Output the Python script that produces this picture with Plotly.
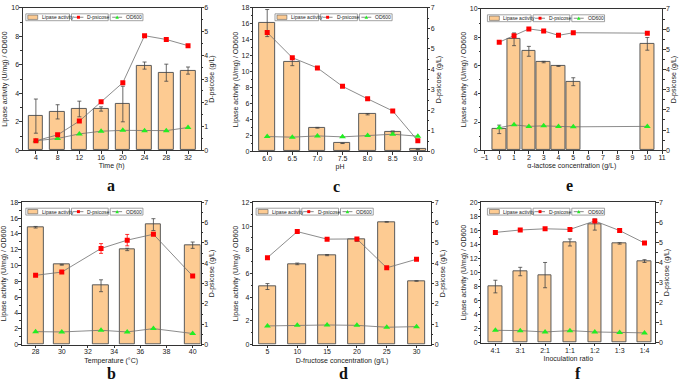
import plotly.graph_objects as go

W, H = 685, 384

# ---------------- data ----------------
time_h = [4, 8, 12, 16, 20, 24, 28, 32]
a_lipase = [2.4, 2.7, 2.9, 2.9, 3.25, 5.95, 5.45, 5.6]
a_lipase_err = [1.2, 0.5, 0.55, 0.15, 1.25, 0.25, 0.6, 0.25]
a_psicose = [0.4, 0.65, 1.23, 2.05, 2.85, 4.83, 4.67, 4.41]
a_od600 = [0.67, 0.83, 1.15, 1.34, 1.4, 1.38, 1.38, 1.6]

ph = [6.0, 6.5, 7.0, 7.5, 8.0, 8.5, 9.0]
c_lipase = [16.1, 11.2, 2.95, 1.0, 4.65, 2.47, 0.27]
c_lipase_err = [1.7, 0.45, 0.05, 0.03, 0.08, 0.08, 0.03]
c_psicose = [5.8, 4.57, 4.07, 3.17, 2.56, 1.97, 0.51]
c_od600 = [1.85, 1.77, 1.93, 1.81, 1.97, 2.14, 1.89]

lactose = [0, 1, 2, 3, 4, 5, 10]
e_lipase = [1.48, 7.85, 7.0, 6.24, 5.96, 4.85, 7.53]
e_lipase_err = [0.3, 0.45, 0.35, 0.05, 0.03, 0.28, 0.45]
e_psicose = [5.35, 5.67, 6.01, 5.91, 5.69, 5.82, 5.8]
e_od600 = [1.6, 1.8, 1.69, 1.73, 1.69, 1.66, 1.69]

temp = [28, 30, 33, 35, 37, 40]
b_lipase = [14.85, 10.1, 7.45, 12.04, 15.18, 12.58]
b_lipase_err = [0.1, 0.05, 0.75, 0.15, 0.75, 0.4]
b_psicose = [3.41, 3.57, 4.73, 5.14, 5.43, 3.38]
b_psicose_err = [0.03, 0.03, 0.24, 0.28, 0.06, 0.0]
b_od600 = [1.65, 1.61, 1.82, 1.61, 2.03, 1.41]

fructose = [5, 10, 15, 20, 25, 30]
d_lipase = [4.9, 6.81, 7.55, 8.86, 10.35, 5.37]
d_lipase_err = [0.25, 0.07, 0.05, 0.15, 0.02, 0.02]
d_psicose = [4.28, 5.56, 5.19, 5.2, 3.78, 4.2]
d_od600 = [1.58, 1.63, 1.66, 1.63, 1.47, 1.52]

ratio = ["4:1", "3:1", "2:1", "1:1", "1:2", "1:3", "1:4"]
f_lipase = [8.0, 10.14, 9.63, 14.28, 16.84, 14.14, 11.63]
f_lipase_err = [0.9, 0.6, 1.8, 0.5, 0.8, 0.1, 0.2]
f_psicose = [5.5, 5.62, 5.68, 5.65, 6.07, 5.59, 4.97]
f_od600 = [1.77, 1.72, 1.53, 1.72, 1.53, 1.44, 1.4]

# ---------------- styles ----------------
BAR_FILL = "#FDCB92"
BAR_LINE = "#5a5a5a"
LINE_COL = "#6e6e6e"
RED = "#FF0000"
GREEN = "#22EE22"
AX = "#333333"
FONT = "Liberation Sans, Arial, sans-serif"


def px_x(v):
    return v / W


def px_y(v):
    return 1 - v / H


panels = [
    dict(letter="a", box=(22, 4, 201, 149), x=time_h, lip=a_lipase, lerr=a_lipase_err,
         psi=a_psicose, perr=None, od=a_od600, xr=[1.6, 34.3], yr=[0, 10], y2r=[0, 6],
         width=2.7, xtitle="Time (h)", tickvals=time_h, ticktext=None, letter_x=111,
         letter_y=185, leg_dx=3, bottom=False),
    dict(letter="c", box=(254, 4, 429, 150), x=ph, lip=c_lipase, lerr=c_lipase_err,
         psi=c_psicose, perr=None, od=c_od600, xr=[5.72, 9.18], yr=[0, 18], y2r=[0, 7],
         width=0.32, xtitle="pH", tickvals=ph, ticktext=[f"{v:.1f}" for v in ph],
         letter_x=338, letter_y=186, leg_dx=22, bottom=False),
    dict(letter="e", box=(484, 5, 666, 149), x=lactose, lip=e_lipase, lerr=e_lipase_err,
         psi=e_psicose, perr=None, od=e_od600, xr=[-1.2, 11], yr=[0, 10], y2r=[0, 7],
         width=0.92, xtitle="α-lactose concentration (g/L)", tickvals=list(range(-1, 12)),
         ticktext=None, letter_x=573, letter_y=185, leg_dx=6, bottom=False),
    dict(letter="b", box=(21, 202, 201, 347), x=temp, lip=b_lipase, lerr=b_lipase_err,
         psi=b_psicose, perr=b_psicose_err, od=b_od600, xr=[26.95, 40.6], yr=[0, 18],
         y2r=[0, 7], width=1.2, xtitle="Temperature (°C)", tickvals=list(range(28, 41, 2)),
         ticktext=None, letter_x=111, letter_y=384, leg_dx=4, bottom=True),
    dict(letter="d", box=(254, 202, 433, 347), x=fructose, lip=d_lipase, lerr=d_lipase_err,
         psi=d_psicose, perr=None, od=d_od600, xr=[2.6, 32.4], yr=[0, 12], y2r=[0, 7],
         width=2.9, xtitle="D-fructose concentration (g/L)", tickvals=fructose,
         ticktext=None, letter_x=345, letter_y=384, leg_dx=3, bottom=True),
    dict(letter="f", box=(484, 202, 659, 345), x=ratio, lip=f_lipase, lerr=f_lipase_err,
         psi=f_psicose, perr=None, od=f_od600, xr=[-0.56, 6.43], yr=[0, 20], y2r=[0, 7],
         width=0.55, xtitle="Inoculation ratio", tickvals=None, ticktext=None,
         letter_x=581, letter_y=384, leg_dx=6, bottom=True),
]

fig = go.Figure()
shapes = []
annotations = []
layout = {}

for i, p in enumerate(panels):
    n = i + 1
    xa = f"x{n}" if n > 1 else "x"
    ya = f"y{n}" if n > 1 else "y"
    y2n = n + 6
    ya2 = f"y{y2n}"
    l, t, r, b = p["box"]

    fig.add_trace(go.Bar(
        x=p["x"], y=p["lip"], width=p["width"], xaxis=xa, yaxis=ya,
        marker=dict(color=BAR_FILL, line=dict(color=BAR_LINE, width=1)),
        error_y=dict(type="data", array=p["lerr"], color="#444444", thickness=0.8, width=2),
        showlegend=False, name="Lipase activity"))
    fig.add_trace(go.Scatter(
        x=p["x"], y=p["od"], xaxis=xa, yaxis=ya, mode="lines+markers",
        line=dict(color=LINE_COL, width=0.8),
        marker=dict(symbol="triangle-up", size=6, color=GREEN, line=dict(width=0)),
        showlegend=False, name="OD600"))
    perr = dict(type="data", array=p["perr"], color=RED, thickness=0.8, width=2) \
        if p["perr"] is not None else None
    fig.add_trace(go.Scatter(
        x=p["x"], y=p["psi"], xaxis=xa, yaxis=ya2, mode="lines+markers",
        line=dict(color=LINE_COL, width=0.8),
        marker=dict(symbol="square", size=5, color=RED, line=dict(width=0)),
        error_y=perr, showlegend=False, name="D-psicose"))

    xkey = "xaxis" if n == 1 else f"xaxis{n}"
    ykey = "yaxis" if n == 1 else f"yaxis{n}"
    y2key = f"yaxis{y2n}"
    xaxis = dict(
        domain=[px_x(l), px_x(r)], anchor=ya, range=p["xr"],
        showline=True, linecolor=AX, linewidth=0.8, mirror=True,
        ticks="outside", ticklen=2.5, tickcolor=AX, tickwidth=0.8,
        ticklabelstandoff=-2,
        tickfont=dict(size=7, color="#222", family=FONT),
        title=dict(text=p["xtitle"], font=dict(size=7, color="#222", family=FONT), standoff=3),
        showgrid=False, zeroline=False)
    if p["tickvals"] is not None:
        xaxis["tickvals"] = p["tickvals"]
        if p["ticktext"] is not None:
            xaxis["ticktext"] = p["ticktext"]
    else:
        xaxis["type"] = "category"
    layout[xkey] = xaxis
    layout[ykey] = dict(
        domain=[px_y(b), px_y(t)], anchor=xa, range=p["yr"], dtick=2,
        showline=True, linecolor=AX, linewidth=0.8,
        ticks="outside", ticklen=2.5, tickcolor=AX, tickwidth=0.8,
        ticklabelstandoff=-1,
        minor=dict(ticks="outside", ticklen=1.5, dtick=1, tickcolor=AX),
        tickfont=dict(size=7, color="#222", family=FONT),
        title=dict(text="Lipase activity (U/mg) / OD600",
                   font=dict(size=7, color="#222", family=FONT), standoff=2),
        showgrid=False, zeroline=False)
    layout[y2key] = dict(
        overlaying=ya, side="right", anchor=xa, range=p["y2r"], dtick=1,
        showline=True, linecolor=AX, linewidth=0.8,
        ticks="outside", ticklen=2.5, tickcolor=AX, tickwidth=0.8,
        ticklabelstandoff=-1,
        minor=dict(ticks="outside", ticklen=1.5, dtick=0.5, tickcolor=AX),
        tickfont=dict(size=7, color="#222", family=FONT),
        title=dict(text="D-psicose (g/L)", font=dict(size=7, color="#222", family=FONT),
                   standoff=1),
        showgrid=False, zeroline=False)

    # panel letter
    annotations.append(dict(
        text=f"<b>{p['letter']}</b>", xref="paper", yref="paper",
        x=px_x(p["letter_x"]), y=px_y(p["letter_y"]), showarrow=False,
        xanchor="center", yanchor="bottom" if p["bottom"] else "middle",
        yshift=-3 if p["bottom"] else 0,
        font=dict(size=16, color="#111", family="Liberation Serif, Times New Roman, serif")))

    # legend boxes (decoration)
    lx = l + p["leg_dx"]
    ly = t + 6
    hgt = 7
    items = [("Lipase activity", 0, 44, "bar"), ("D-psicose", 46, 37, "sq"),
             ("OD600", 85, 33, "tri")]
    for label, dx, wd, kind in items:
        bx = lx + dx
        shapes.append(dict(type="rect", xref="paper", yref="paper",
                           x0=px_x(bx), x1=px_x(bx + wd), y0=px_y(ly + hgt), y1=px_y(ly),
                           line=dict(color="#8a8a8a", width=0.8), fillcolor="rgba(0,0,0,0)"))
        my = ly + hgt / 2
        if kind == "bar":
            shapes.append(dict(type="rect", xref="paper", yref="paper",
                               x0=px_x(bx + 2), x1=px_x(bx + 12),
                               y0=px_y(ly + hgt - 1.3), y1=px_y(ly + 1.3),
                               line=dict(color=BAR_LINE, width=0.6), fillcolor=BAR_FILL))
        else:
            shapes.append(dict(type="line", xref="paper", yref="paper",
                               x0=px_x(bx + 2), x1=px_x(bx + 12), y0=px_y(my), y1=px_y(my),
                               line=dict(color=LINE_COL, width=0.8)))
            if kind == "sq":
                shapes.append(dict(type="rect", xref="paper", yref="paper",
                                   x0=px_x(bx + 5.5), x1=px_x(bx + 8.5),
                                   y0=px_y(my + 1.5), y1=px_y(my - 1.5),
                                   line=dict(width=0), fillcolor=RED))
            else:
                path = (f"M {px_x(bx + 5.2)} {px_y(my + 1.6)} L {px_x(bx + 8.8)} {px_y(my + 1.6)} "
                        f"L {px_x(bx + 7)} {px_y(my - 1.8)} Z")
                shapes.append(dict(type="path", xref="paper", yref="paper", path=path,
                                   line=dict(width=0), fillcolor=GREEN))
        annotations.append(dict(text=label, xref="paper", yref="paper",
                                x=px_x(bx + 14), y=px_y(my), xanchor="left", yanchor="middle",
                                showarrow=False,
                                font=dict(size=5, color="#222", family=FONT)))

fig.update_layout(
    width=W, height=H, margin=dict(l=0, r=0, t=0, b=0),
    paper_bgcolor="white", plot_bgcolor="white",
    font=dict(family=FONT, size=7, color="#222"),
    bargap=0, showlegend=False, shapes=shapes, annotations=annotations, **layout)

fig.write_html("out.html", config={"displayModeBar": False},
               post_script="document.body.style.margin='0';document.body.style.overflow='hidden';")
